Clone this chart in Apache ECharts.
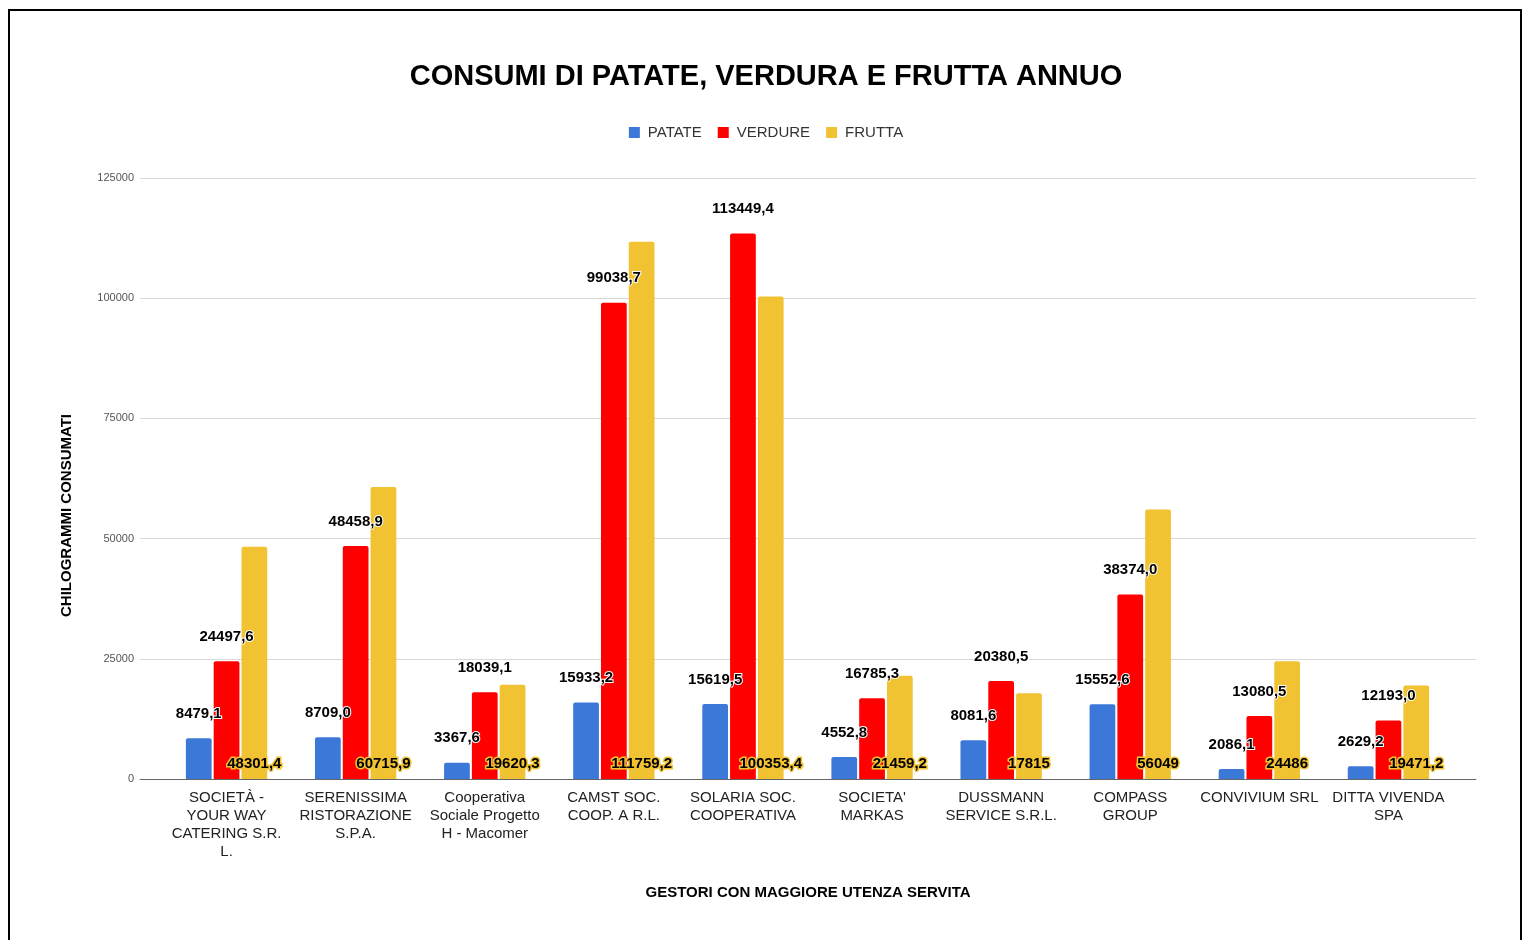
<!DOCTYPE html>
<html>
<head>
<meta charset="utf-8">
<script src="https://cdn.jsdelivr.net/npm/echarts@6/dist/echarts.min.js"></script>
<style>
  html, body { margin: 0; padding: 0; background: #fff; overflow: hidden; }
  #chart { width: 1532px; height: 940px; }
</style>
</head>
<body>
<div id="chart"></div>
<script>
var dom = document.getElementById("chart");
var myChart = echarts.init(dom);

// gestori (categorie asse x)
var gestori = [
    'SOCIETÀ -\nYOUR WAY\nCATERING S.R.\nL.',
    'SERENISSIMA\nRISTORAZIONE\nS.P.A.',
    'Cooperativa\nSociale Progetto\nH - Macomer',
    'CAMST SOC.\nCOOP. A R.L.',
    'SOLARIA SOC.\nCOOPERATIVA',
    "SOCIETA'\nMARKAS",
    'DUSSMANN\nSERVICE S.R.L.',
    'COMPASS\nGROUP',
    'CONVIVIUM SRL',
    'DITTA VIVENDA\nSPA'
];

var patate  = [8479.1, 8709.0, 3367.6, 15933.2, 15619.5, 4552.8, 8081.6, 15552.6, 2086.1, 2629.2];
var verdure = [24497.6, 48458.9, 18039.1, 99038.7, 113449.4, 16785.3, 20380.5, 38374.0, 13080.5, 12193.0];
var frutta  = [48301.4, 60715.9, 19620.3, 111759.2, 100353.4, 21459.2, 17815, 56049, 24486, 19471.2];

var yTicks = [0, 25000, 50000, 75000, 100000, 125000];

var FONT = '"Liberation Sans", Arial, sans-serif';

function fmt1(p) {
    return p.value.toFixed(1).replace('.', ',');
}
function fmtFrutta(p) {
    return Number.isInteger(p.value) ? String(p.value) : p.value.toFixed(1).replace('.', ',');
}

var topLabel = {
    show: true,
    position: 'top',
    distance: 17,
    formatter: fmt1,
    color: '#000',
    fontFamily: FONT,
    fontWeight: 'bold',
    fontSize: 15,
    textBorderColor: '#fff',
    textBorderWidth: 2
};

option = {
    animation: false,
    title: {
        text: 'CONSUMI DI PATATE, VERDURA E FRUTTA ANNUO',
        left: 'center',
        top: 57,
        textStyle: {
            fontFamily: FONT,
            fontSize: 29,
            fontWeight: 'bold',
            color: '#000'
        }
    },
    legend: {
        data: ['PATATE', 'VERDURE', 'FRUTTA'],
        left: 'center',
        top: 120,
        icon: 'rect',
        itemWidth: 11,
        itemHeight: 11,
        itemGap: 16,
        textStyle: { fontFamily: FONT, fontSize: 15, color: '#333', padding: [0, 0, 0, 3] }
    },
    graphic: [{
        type: 'rect',
        shape: { x: 9, y: 10, width: 1512, height: 940 },
        style: { fill: 'none', stroke: '#000', lineWidth: 2 },
        silent: true
    }],
    grid: [
        { left: 140, right: 56, top: 178, bottom: 161 },
        { left: 162, right: 79, top: 178, bottom: 161 }
    ],
    xAxis: [{
        gridIndex: 0,
        type: 'category',
        data: gestori,
        axisLine: { lineStyle: { color: '#666', width: 1 } },
        axisTick: { show: false },
        axisLabel: { show: false },
        name: 'GESTORI CON MAGGIORE UTENZA SERVITA',
        nameLocation: 'middle',
        nameGap: 106,
        nameTextStyle: { fontFamily: FONT, fontSize: 15, fontWeight: 'bold', color: '#000' }
    }, {
        gridIndex: 1,
        type: 'category',
        data: gestori,
        axisLine: { show: false },
        axisTick: { show: false },
        axisLabel: {
            interval: 0,
            margin: 10,
            fontFamily: FONT,
            fontSize: 15,
            lineHeight: 18,
            color: '#222'
        }
    }],
    yAxis: [{
        gridIndex: 0,
        type: 'value',
        min: yTicks[0],
        max: yTicks[yTicks.length - 1],
        interval: 25000,
        axisLine: { show: false },
        axisTick: { show: false },
        splitLine: { lineStyle: { color: '#d9d9d9' } },
        axisLabel: {
            fontFamily: FONT, fontSize: 11, color: '#555', margin: 6,
            formatter: function (v) { return String(v); }
        },
        name: 'CHILOGRAMMI CONSUMATI',
        nameLocation: 'middle',
        nameGap: 66,
        nameTextStyle: {
            fontFamily: FONT, fontSize: 15, fontWeight: 'bold', color: '#000',
            padding: [0, 74, 0, 0]
        }
    }, {
        gridIndex: 1,
        type: 'value',
        min: yTicks[0],
        max: yTicks[yTicks.length - 1],
        show: false,
        splitLine: { show: false }
    }],
    series: [{
        name: 'PATATE',
        type: 'bar',
        xAxisIndex: 1,
        yAxisIndex: 1,
        data: patate,
        barGap: '8%',
        barCategoryGap: '37%',
        itemStyle: { color: '#3c78d8', borderRadius: [2, 2, 0, 0] },
        label: topLabel
    }, {
        name: 'VERDURE',
        type: 'bar',
        xAxisIndex: 1,
        yAxisIndex: 1,
        data: verdure,
        itemStyle: { color: '#ff0000', borderRadius: [2, 2, 0, 0] },
        label: topLabel
    }, {
        name: 'FRUTTA',
        type: 'bar',
        xAxisIndex: 1,
        yAxisIndex: 1,
        data: frutta,
        itemStyle: { color: '#f1c232', borderRadius: [2, 2, 0, 0] },
        label: {
            show: true,
            position: 'insideBottom',
            distance: 8,
            formatter: fmtFrutta,
            color: '#000',
            fontFamily: FONT,
            fontWeight: 'bold',
            fontSize: 15,
            textBorderColor: '#f1c232',
            textBorderWidth: 3
        }
    }]
};
if (option && typeof option === "object") {
    myChart.setOption(option, true);
}
</script>
</body>
</html>
